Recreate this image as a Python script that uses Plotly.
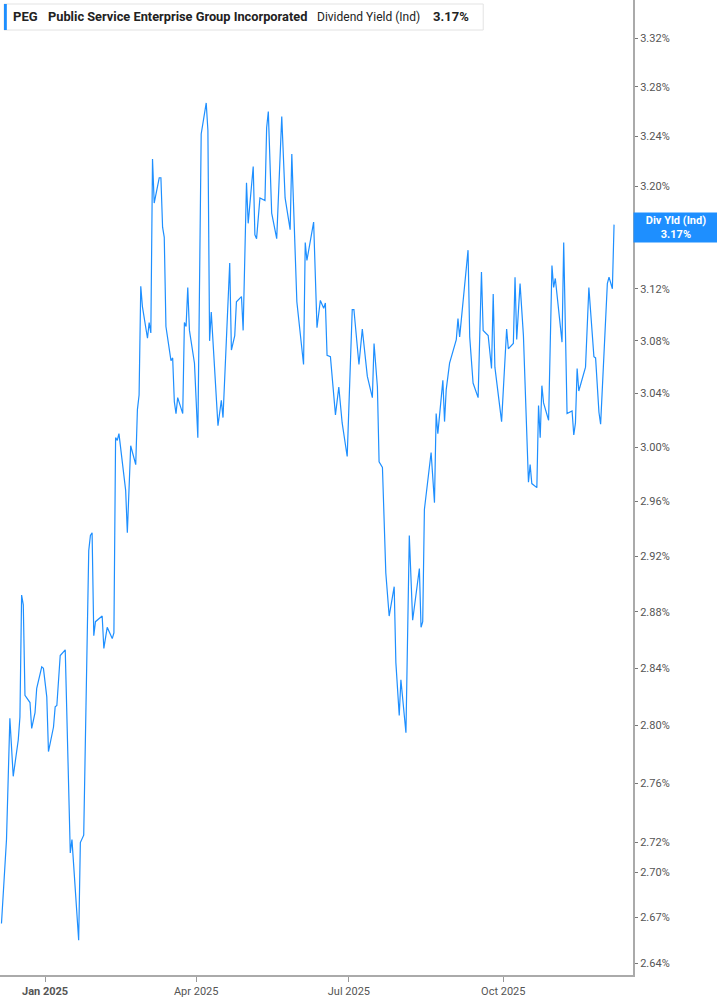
import math
import plotly.graph_objects as go

# PEG dividend yield (indicated)
dates = [
    "2024-12-06", "2024-12-09", "2024-12-11", "2024-12-13", "2024-12-16", "2024-12-17", "2024-12-18", "2024-12-19", "2024-12-20", "2024-12-23",
    "2024-12-24", "2024-12-26", "2024-12-27", "2024-12-30", "2024-12-31", "2025-01-02", "2025-01-03", "2025-01-06", "2025-01-07", "2025-01-08",
    "2025-01-10", "2025-01-13", "2025-01-16", "2025-01-17", "2025-01-21", "2025-01-22", "2025-01-24", "2025-01-27", "2025-01-28", "2025-01-29",
    "2025-01-30", "2025-01-31", "2025-02-04", "2025-02-05", "2025-02-07", "2025-02-10", "2025-02-11", "2025-02-12", "2025-02-13", "2025-02-14",
    "2025-02-18", "2025-02-19", "2025-02-21", "2025-02-24", "2025-02-25", "2025-02-26", "2025-02-27", "2025-02-28", "2025-03-03", "2025-03-04",
    "2025-03-05", "2025-03-06", "2025-03-07", "2025-03-10", "2025-03-11", "2025-03-12", "2025-03-13", "2025-03-14", "2025-03-17", "2025-03-18",
    "2025-03-19", "2025-03-20", "2025-03-21", "2025-03-24", "2025-03-25", "2025-03-26", "2025-03-27", "2025-03-28", "2025-03-31", "2025-04-02",
    "2025-04-04", "2025-04-07", "2025-04-08", "2025-04-09", "2025-04-10", "2025-04-14", "2025-04-16", "2025-04-17", "2025-04-21", "2025-04-22",
    "2025-04-24", "2025-04-25", "2025-04-28", "2025-04-29", "2025-05-01", "2025-05-02", "2025-05-05", "2025-05-06", "2025-05-07", "2025-05-09",
    "2025-05-12", "2025-05-13", "2025-05-14", "2025-05-16", "2025-05-19", "2025-05-22", "2025-05-24", "2025-05-27", "2025-05-28", "2025-05-31",
    "2025-06-04", "2025-06-05", "2025-06-06", "2025-06-10", "2025-06-12", "2025-06-14", "2025-06-16", "2025-06-17", "2025-06-18", "2025-06-20",
    "2025-06-23", "2025-06-25", "2025-06-27", "2025-06-30", "2025-07-03", "2025-07-04", "2025-07-07", "2025-07-09", "2025-07-12", "2025-07-15",
    "2025-07-16", "2025-07-18", "2025-07-19", "2025-07-21", "2025-07-23", "2025-07-25", "2025-07-28", "2025-07-29", "2025-07-31", "2025-08-01",
    "2025-08-04", "2025-08-06", "2025-08-08", "2025-08-12", "2025-08-13", "2025-08-14", "2025-08-15", "2025-08-19", "2025-08-21", "2025-08-22",
    "2025-08-23", "2025-08-26", "2025-08-27", "2025-08-28", "2025-08-30", "2025-09-03", "2025-09-04", "2025-09-05", "2025-09-10", "2025-09-11",
    "2025-09-13", "2025-09-16", "2025-09-18", "2025-09-19", "2025-09-22", "2025-09-24", "2025-09-25", "2025-09-26", "2025-09-30", "2025-10-03",
    "2025-10-04", "2025-10-07", "2025-10-08", "2025-10-09", "2025-10-11", "2025-10-13", "2025-10-16", "2025-10-17", "2025-10-18", "2025-10-21",
    "2025-10-22", "2025-10-23", "2025-10-24", "2025-10-25", "2025-10-28", "2025-10-30", "2025-10-31", "2025-11-01", "2025-11-05", "2025-11-06",
    "2025-11-08", "2025-11-11", "2025-11-12", "2025-11-13", "2025-11-14", "2025-11-15", "2025-11-19", "2025-11-21", "2025-11-24", "2025-11-25",
    "2025-11-27", "2025-11-28", "2025-12-02", "2025-12-03", "2025-12-05", "2025-12-06",
]

div_yield = [
    2.666, 2.722, 2.805, 2.765, 2.790, 2.806, 2.892, 2.885, 2.821, 2.816,
    2.798, 2.809, 2.826, 2.841, 2.840, 2.820, 2.782, 2.799, 2.813, 2.814,
    2.849, 2.853, 2.713, 2.722, 2.655, 2.720, 2.725, 2.924, 2.935, 2.937,
    2.863, 2.873, 2.877, 2.854, 2.869, 2.861, 2.865, 3.007, 3.005, 3.010,
    2.968, 2.937, 3.001, 2.987, 3.028, 3.039, 3.122, 3.106, 3.082, 3.094,
    3.086, 3.222, 3.187, 3.207, 3.207, 3.168, 3.160, 3.091, 3.065, 3.067,
    3.034, 3.025, 3.037, 3.025, 3.094, 3.091, 3.121, 3.088, 3.063, 3.007,
    3.242, 3.267, 3.245, 3.080, 3.102, 3.016, 3.035, 3.022, 3.140, 3.073,
    3.084, 3.110, 3.114, 3.088, 3.203, 3.171, 3.216, 3.162, 3.159, 3.191,
    3.189, 3.247, 3.260, 3.179, 3.159, 3.256, 3.191, 3.166, 3.226, 3.110,
    3.062, 3.156, 3.142, 3.172, 3.090, 3.111, 3.105, 3.109, 3.069, 3.068,
    3.024, 3.045, 3.018, 2.993, 3.104, 3.104, 3.062, 3.089, 3.053, 3.037,
    3.078, 3.045, 2.989, 2.985, 2.908, 2.877, 2.898, 2.844, 2.807, 2.832,
    2.795, 2.935, 2.874, 2.911, 2.869, 2.873, 2.954, 2.996, 2.959, 3.025,
    3.010, 3.050, 3.019, 3.043, 3.063, 3.081, 3.097, 3.083, 3.150, 3.083,
    3.048, 3.037, 3.133, 3.088, 3.084, 3.059, 3.116, 3.060, 3.019, 3.089,
    3.074, 3.078, 3.129, 3.081, 3.124, 3.084, 2.974, 2.987, 2.973, 2.970,
    3.031, 3.007, 3.046, 3.033, 3.020, 3.138, 3.121, 3.128, 3.079, 3.156,
    3.025, 3.027, 3.009, 3.018, 3.059, 3.042, 3.060, 3.121, 3.068, 3.067,
    3.026, 3.017, 3.124, 3.129, 3.120, 3.170,
]

y_ticks = [3.32, 3.28, 3.24, 3.20, 3.16, 3.12, 3.08, 3.04, 3.00, 2.96, 2.92,
           2.88, 2.84, 2.80, 2.76, 2.72, 2.70, 2.67, 2.64]
y_labels = [f"{v:.2f}%" for v in y_ticks]

x_ticks = ["2025-01-01", "2025-04-01", "2025-07-01", "2025-10-01"]
x_labels = ["<b>Jan 2025</b>", "Apr 2025", "Jul 2025", "Oct 2025"]

BLUE = "#1e8fff"
GREY = "#555555"
FONT = "Roboto"

fig = go.Figure()
fig.add_trace(go.Scatter(
    x=dates, y=div_yield, mode="lines",
    line=dict(color=BLUE, width=1.2),
    hoverinfo="skip", showlegend=False,
))

fig.update_layout(
    width=717, height=1005,
    margin=dict(l=0, r=84, t=0, b=30),
    paper_bgcolor="white", plot_bgcolor="white",
    font=dict(family=FONT, size=11, color=GREY),
    showlegend=False,
)

fig.update_xaxes(
    type="date",
    range=["2024-12-05 03:00", "2025-12-17 07:00"],
    tickvals=x_ticks, ticktext=x_labels,
    ticks="outside", ticklen=5, tickcolor="#999999",
    showline=True, linecolor="#aaaaaa", linewidth=2,
    showgrid=False, zeroline=False,
    tickfont=dict(family=FONT, size=11, color=GREY),
)

fig.update_yaxes(
    type="log", side="right",
    range=[math.log10(2.6322), math.log10(3.3514)],
    tickvals=y_ticks, ticktext=y_labels,
    ticks="outside", ticklen=3, tickcolor="#777777",
    showline=True, linecolor="#aaaaaa", linewidth=2,
    showgrid=False, zeroline=False,
    tickfont=dict(family=FONT, size=11, color=GREY),
)

# header box
fig.add_shape(type="rect", xref="paper", yref="paper",
              x0=0.0063, x1=0.7634, y0=0.9692, y1=0.9959,
              line=dict(color="#e3e3e3", width=1), fillcolor="white")
fig.add_shape(type="rect", xref="paper", yref="paper",
              x0=0.0063, x1=0.0108, y0=0.9692, y1=0.9959,
              line=dict(width=0), fillcolor=BLUE)

header = [
    (0.0175, "<b>PEG</b>", 13),
    (0.0720, "<b>Public Service Enterprise Group Incorporated</b>", 12.8),
    (0.4980, "Dividend Yield (Ind)", 12),
    (0.6815, "<b>3.17%</b>", 13),
]
for xp, txt, sz in header:
    fig.add_annotation(x=xp, y=0.9826, xref="paper", yref="paper",
                       xanchor="left", yanchor="middle", showarrow=False,
                       text=txt, font=dict(family=FONT, size=sz, color="#222222"))

# last value tag on the axis
fig.add_annotation(
    x=1.0, xref="paper", xanchor="left",
    y=math.log10(div_yield[-1]), yref="y", yanchor="middle", yshift=-3,
    text="<b>Div Yld (Ind)</b><br><b>3.17%</b>", showarrow=False,
    font=dict(family=FONT, size=11, color="white"),
    bgcolor=BLUE, borderpad=2, width=80, height=25, align="center",
)

# page body margin would offset the figure by 8px
fig.write_html("out.html", config={"displayModeBar": False},
               post_script="document.body.style.margin='0px';")
